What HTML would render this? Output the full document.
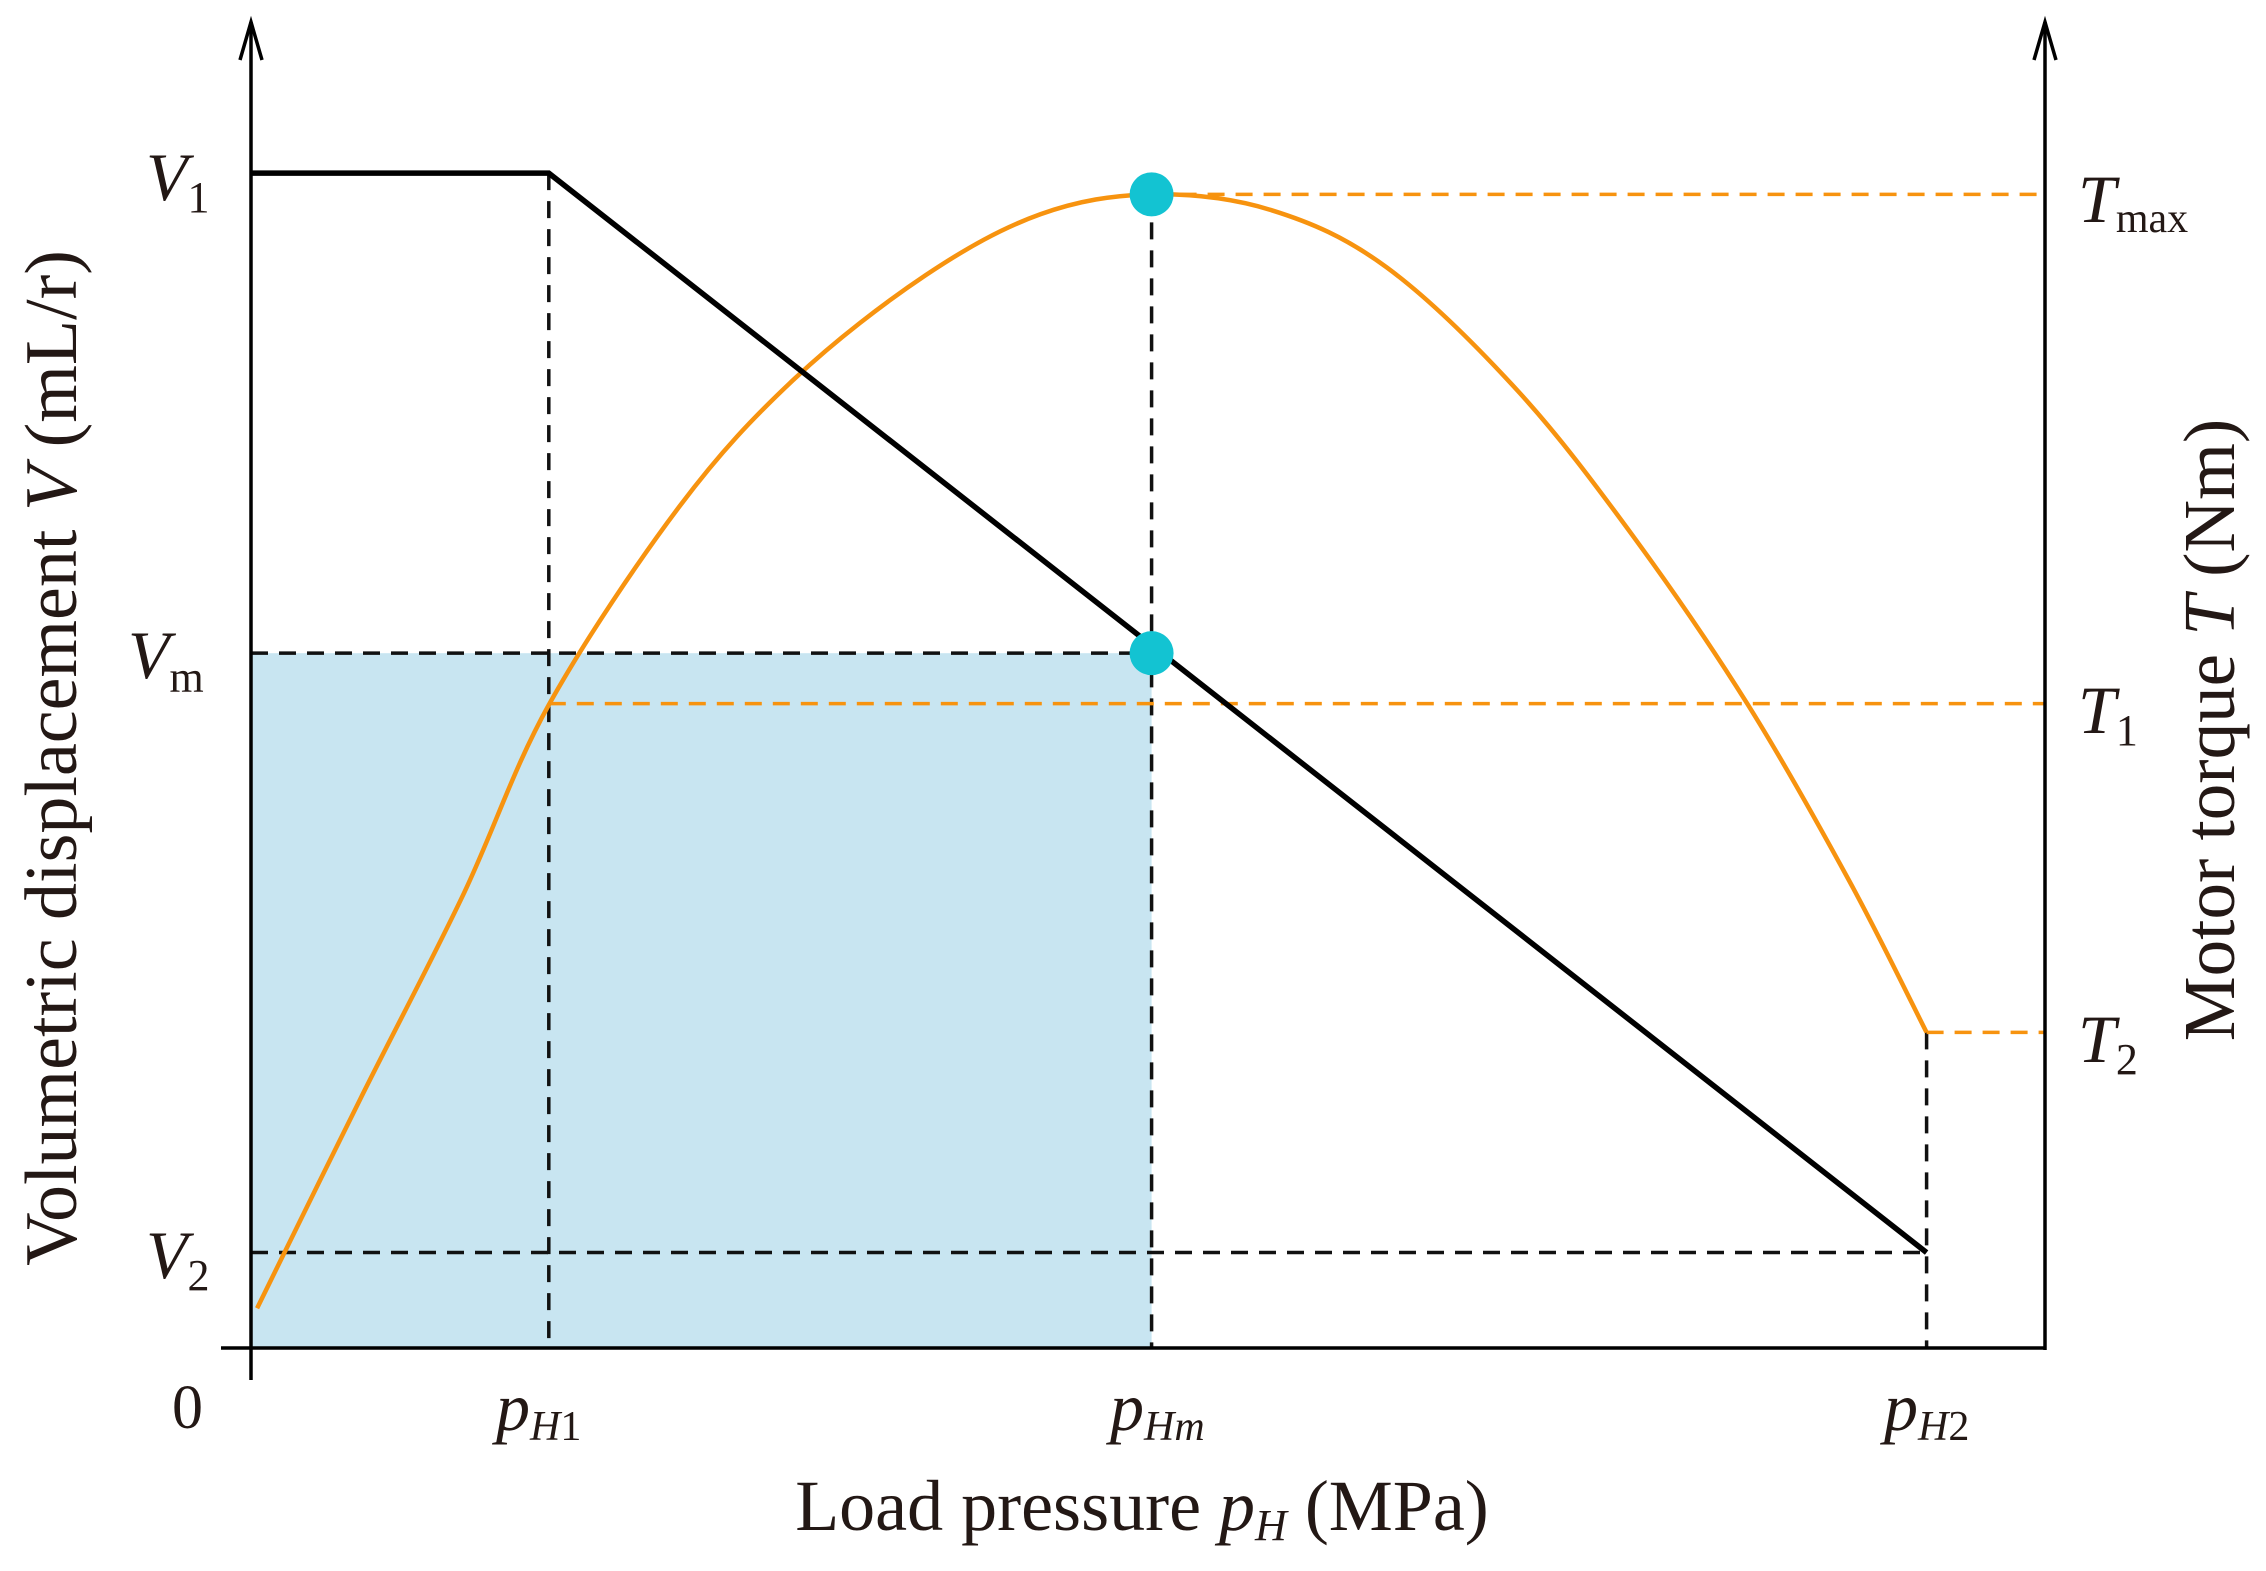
<!DOCTYPE html>
<html><head><meta charset="utf-8"><style>
html,body{margin:0;padding:0;background:#fff;}
svg{display:block;}
text{font-family:"Liberation Serif",serif;fill:#231815;}
</style></head><body>
<svg id="chart" width="2266" height="1571" viewBox="0 0 2266 1571" xmlns="http://www.w3.org/2000/svg">
<g id="plot"></g>
<g>
<text x="146" y="200" font-size="68" font-style="italic">V<tspan font-size="44" font-style="normal" dy="12">1</tspan></text>
<text x="128" y="678" font-size="68" font-style="italic">V<tspan font-size="44" font-style="normal" dy="14">m</tspan></text>
<text x="146" y="1278" font-size="68" font-style="italic">V<tspan font-size="44" font-style="normal" dy="12">2</tspan></text>
<text x="172" y="1428" font-size="62">0</text>
<text x="2078" y="222" font-size="68" font-style="italic">T<tspan font-size="42" font-style="normal" dy="10">max</tspan></text>
<text x="2078" y="733" font-size="68" font-style="italic">T<tspan font-size="44" font-style="normal" dy="12">1</tspan></text>
<text x="2078" y="1062" font-size="68" font-style="italic">T<tspan font-size="44" font-style="normal" dy="12">2</tspan></text>
<text x="496" y="1430" font-size="68" font-style="italic">p<tspan font-size="42" dy="10">H</tspan><tspan font-size="42" font-style="normal">1</tspan></text>
<text x="1110" y="1430" font-size="68" font-style="italic">p<tspan font-size="42" dy="10">Hm</tspan></text>
<text x="1884" y="1430" font-size="68" font-style="italic">p<tspan font-size="42" dy="10">H</tspan><tspan font-size="42" font-style="normal">2</tspan></text>
<text x="1142" y="1530" font-size="72" text-anchor="middle">Load pressure <tspan font-style="italic">p</tspan><tspan font-size="44" font-style="italic" dy="10">H</tspan><tspan dy="-10"> (MPa)</tspan></text>
<text transform="translate(76,758) rotate(-90)" font-size="74" text-anchor="middle">Volumetric displacement <tspan font-style="italic">V</tspan> (mL/r)</text>
<text transform="translate(2234,730) rotate(-90)" font-size="73" text-anchor="middle">Motor torque <tspan font-style="italic">T</tspan> (Nm)</text>
</g>
</svg>
<script>
// data (pressure 0..100 across plot, values 0..100)
const pKeys = [16.6, 50.2, 93.4];          // pH1, pHm, pH2
const vKeys = [88.6, 52.4, 7.2];           // V1, Vm, V2
const tKeys = [87.0, 48.6, 23.8];          // Tmax, T1, T2
const dispX = [0, 16.6, 93.4];
const dispY = [88.6, 88.6, 7.2];
const torqueX = [0.34, 6.1, 11.8, 16.6, 23.9, 30.3, 37.6, 44.0, 50.2, 56.9, 63.3, 70.6, 77.0, 83.4, 89.1, 93.4];
const torqueY = [3.0, 18.8, 34.1, 48.5, 63.5, 73.1, 80.9, 85.5, 87.0, 85.8, 81.5, 72.2, 61.3, 48.6, 35.2, 23.8];

const X0 = 251, X1 = 2045, Y0 = 1348, YT = 22;
const sx = v => X0 + v * (X1 - X0) / 100;
const sy = v => Y0 - v * (Y0 - YT) / 100;
const NS = "http://www.w3.org/2000/svg";
const g = document.getElementById('plot');
function mk(tag, attrs) { const e = document.createElementNS(NS, tag); for (const k in attrs) e.setAttribute(k, attrs[k]); g.appendChild(e); return e; }
function smoothPath(xs, ys) {
  const P = xs.map((x, i) => [sx(x), sy(ys[i])]);
  let d = 'M' + P[0][0] + ',' + P[0][1];
  for (let i = 0; i < P.length - 1; i++) {
    const p0 = P[Math.max(0, i - 1)], p1 = P[i], p2 = P[i + 1], p3 = P[Math.min(P.length - 1, i + 2)];
    const c1 = [p1[0] + (p2[0] - p0[0]) / 6, p1[1] + (p2[1] - p0[1]) / 6];
    const c2 = [p2[0] - (p3[0] - p1[0]) / 6, p2[1] - (p3[1] - p1[1]) / 6];
    d += ` C${c1[0]},${c1[1]} ${c2[0]},${c2[1]} ${p2[0]},${p2[1]}`;
  }
  return d;
}

let e;
e = mk('rect', {x: sx(0), y: sy(vKeys[1]), width: sx(pKeys[1]) - sx(0), height: sy(0) - sy(vKeys[1]), fill: '#c8e5f1'});



const blk = {stroke: '#111', 'stroke-width': 3.5, 'stroke-dasharray': '17 11', fill: 'none'};
const org = {stroke: '#f7930f', 'stroke-width': 3.5, 'stroke-dasharray': '17 11', fill: 'none'};
function dline(x1, y1, x2, y2, st, name) {
  const l = mk('line', Object.assign({x1, y1, x2, y2}, st));
  
  
}
dline(sx(pKeys[0]), sy(vKeys[0]), sx(pKeys[0]), sy(0), blk, 'ph1-guide');
dline(sx(pKeys[1]), sy(tKeys[0]), sx(pKeys[1]), sy(0), blk, 'phm-guide');
dline(sx(pKeys[2]), sy(tKeys[2]), sx(pKeys[2]), sy(0), blk, 'ph2-guide');
dline(sx(0), sy(vKeys[1]), sx(pKeys[1]), sy(vKeys[1]), blk, 'vm-guide');
dline(sx(0), sy(vKeys[2]), sx(pKeys[2]), sy(vKeys[2]), blk, 'v2-guide');
dline(sx(pKeys[1]), sy(tKeys[0]), sx(100), sy(tKeys[0]), org, 'tmax-guide');
dline(sx(pKeys[0]), sy(tKeys[1]), sx(100), sy(tKeys[1]), org, 't1-guide');
dline(sx(pKeys[2]), sy(tKeys[2]), sx(100), sy(tKeys[2]), org, 't2-guide');

e = mk('path', {d: smoothPath(torqueX, torqueY), fill: 'none', stroke: '#f7930f', 'stroke-width': 4.5, 'stroke-linejoin': 'round'});



e = mk('polyline', {points: dispX.map((x, i) => sx(x) + ',' + sy(dispY[i])).join(' '), fill: 'none', stroke: '#000', 'stroke-width': 5.5, 'stroke-linejoin': 'miter'});



e = mk('circle', {cx: sx(pKeys[1]), cy: sy(tKeys[0]), r: 22, fill: '#13c3d2'});


e = mk('circle', {cx: sx(pKeys[1]), cy: sy(vKeys[1]), r: 22, fill: '#13c3d2'});



// axes
e = mk('line', {x1: 221, y1: Y0, x2: X1, y2: Y0, stroke: '#000', 'stroke-width': 3.5});


e = mk('line', {x1: X0, y1: 1380, x2: X0, y2: YT, stroke: '#000', 'stroke-width': 3.5});


e = mk('line', {x1: X1, y1: Y0 + 2, x2: X1, y2: YT, stroke: '#000', 'stroke-width': 3.5});


e = mk('path', {d: `M${X0-11},${YT+38} L${X0},${YT} L${X0+11},${YT+38}`, fill: 'none', stroke: '#000', 'stroke-width': 3.5});


e = mk('path', {d: `M${X1-11},${YT+38} L${X1},${YT} L${X1+11},${YT+38}`, fill: 'none', stroke: '#000', 'stroke-width': 3.5});


</script>
</body></html>
